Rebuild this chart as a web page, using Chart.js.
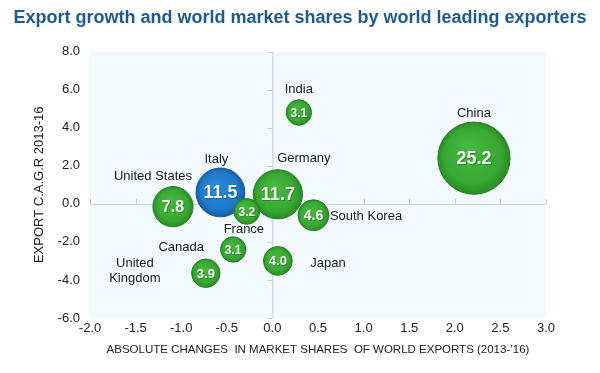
<!DOCTYPE html>
<html>
<head>
<meta charset="utf-8">
<script src="https://cdn.jsdelivr.net/npm/chart.js@4"></script>
<style>
  body { margin: 0; background: #ffffff; }
  #wrap { width: 600px; height: 373px; }
</style>
</head>
<body>
<div id="wrap"><canvas id="bubbleChart" width="600" height="373"></canvas></div>
<script>
// datos
const countries = ['India', 'China', 'Italy', 'Germany', 'United States', 'France', 'South Korea', 'Canada', 'Japan', 'United Kingdom'];
const shareChange = [0.29, 2.21, -0.57, 0.06, -1.09, -0.28, 0.45, -0.43, 0.06, -0.73];
const exportCagr = [4.8, 2.4, 0.6, 0.5, -0.15, -0.4, -0.6, -2.4, -3.0, -3.65];
const marketShare = [3.1, 25.2, 11.5, 11.7, 7.8, 3.2, 4.6, 3.1, 4.0, 3.9];
const xTicks = [-2.0, -1.5, -1.0, -0.5, 0.0, 0.5, 1.0, 1.5, 2.0, 2.5, 3.0];
const yTicks = [-6.0, -4.0, -2.0, 0.0, 2.0, 4.0, 6.0, 8.0];

// dónde va el nombre de cada país respecto a su burbuja
const namePlacement = {
    'India': { dx: 0, dy: -23, align: 'center' },
    'China': { dx: 0, dy: -45, align: 'center' },
    'Italy': { dx: -4, dy: -33, align: 'center' },
    'Germany': { dx: 26, dy: -36, align: 'center' },
    'United States': { dx: -20, dy: -30, align: 'center' },
    'France': { dx: -3, dy: 18, align: 'center' },
    'South Korea': { dx: 16, dy: 1, align: 'left' },
    'Canada': { dx: -52, dy: -2, align: 'center' },
    'Japan': { dx: 33, dy: 3, align: 'left' },
    'United Kingdom': { dx: -71, dy: -10, align: 'center', lines: ['United', 'Kingdom'] }
};

const GREEN = '#3aaa35';
const BLUE = '#1f78c9';
const radiusFor = v => 7.2 * Math.sqrt(v);

const points = countries.map((c, i) => ({ x: shareChange[i], y: exportCagr[i], r: radiusFor(marketShare[i]), share: marketShare[i], name: c }));

function bubbleFill(ctx) {
    const chart = ctx.chart;
    const p = ctx.raw;
    if (!p || !chart.chartArea) return GREEN;
    const cx = chart.scales.x.getPixelForValue(p.x);
    const cy = chart.scales.y.getPixelForValue(p.y);
    const g = chart.ctx.createRadialGradient(cx - p.r * 0.2, cy - p.r * 0.3, p.r * 0.1, cx, cy, p.r);
    if (p.name === 'Italy') {
        g.addColorStop(0, '#2a88d8');
        g.addColorStop(0.75, BLUE);
        g.addColorStop(1, '#155fa6');
    } else {
        g.addColorStop(0, '#45b83f');
        g.addColorStop(0.75, '#38a833');
        g.addColorStop(1, '#2a8a27');
    }
    return g;
}

// fondo del área, ejes en cero y etiquetas
const quadrantPlugin = {
    id: 'quadrant',
    beforeDraw(chart) {
        const { ctx, chartArea: a, scales } = chart;
        ctx.save();
        ctx.fillStyle = '#f3fafd';
        ctx.fillRect(a.left, a.top, a.right - a.left, a.bottom - a.top);
        const x0 = scales.x.getPixelForValue(0);
        const y0 = scales.y.getPixelForValue(0);
        ctx.strokeStyle = '#c9ced3';
        ctx.lineWidth = 1;
        ctx.beginPath();
        ctx.moveTo(a.left, y0 + 0.5); ctx.lineTo(a.right, y0 + 0.5);
        ctx.moveTo(x0 + 0.5, a.top); ctx.lineTo(x0 + 0.5, a.bottom);
        xTicks.forEach(t => {
            const px = Math.round(scales.x.getPixelForValue(t)) + 0.5;
            ctx.moveTo(px, y0); ctx.lineTo(px, y0 - 5);
        });
        yTicks.forEach(t => {
            const py = Math.round(scales.y.getPixelForValue(t)) + 0.5;
            ctx.moveTo(x0, py); ctx.lineTo(x0 - 5, py);
        });
        ctx.stroke();
        ctx.restore();
    },
    afterDatasetsDraw(chart) {
        const { ctx, scales } = chart;
        ctx.save();
        ctx.textBaseline = 'middle';
        points.forEach(p => {
            const cx = scales.x.getPixelForValue(p.x);
            const cy = scales.y.getPixelForValue(p.y);
            // valor dentro de la burbuja
            const fs = Math.max(12, Math.min(18, Math.round(p.r * 0.5 + 6)));
            ctx.font = 'bold ' + fs + 'px "Liberation Sans", Arial, sans-serif';
            ctx.textAlign = 'center';
            ctx.fillStyle = 'rgba(0,0,0,0.25)';
            ctx.fillText(p.share.toFixed(1), cx + 1, cy + 2);
            ctx.fillStyle = '#f4fbf2';
            ctx.fillText(p.share.toFixed(1), cx, cy + 1);
            // nombre del país
            const pl = namePlacement[p.name];
            ctx.font = '13px "Liberation Sans", Arial, sans-serif';
            ctx.fillStyle = '#1a1a1a';
            ctx.textAlign = pl.align;
            const lines = pl.lines || [p.name];
            const sx = pl.align === 'left' ? cx + p.r + pl.dx - 15 : cx + pl.dx;
            lines.forEach((ln, k) => ctx.fillText(ln, sx, cy + pl.dy + k * 15));
        });
        ctx.restore();
    }
};

const chart = new Chart(document.getElementById('bubbleChart').getContext('2d'), {
    type: 'bubble',
    data: {
        datasets: [{
            data: points,
            backgroundColor: bubbleFill,
            borderColor: ctx => (ctx.raw && ctx.raw.name === 'Italy') ? '#155a9c' : '#2a8226',
            borderWidth: 1,
            hoverRadius: 0
        }]
    },
    options: {
        responsive: false,
        animation: false,
        layout: { padding: { left: 0, right: 0, top: 0, bottom: 8 } },
        plugins: {
            legend: { display: false },
            tooltip: { enabled: false },
            title: {
                display: true,
                text: 'Export growth and world market shares by world leading exporters',
                color: '#1d5a94',
                font: { family: '"Liberation Sans", Arial, sans-serif', size: 18, weight: 'bold' },
                padding: { top: 7, bottom: 23 }
            }
        },
        scales: {
            x: {
                type: 'linear',
                min: -2, max: 3,
                afterBuildTicks: s => { s.ticks = xTicks.map(v => ({ value: v })); },
                afterFit: s => { s.height = 47; },
                grid: { display: false, drawTicks: false },
                border: { display: false },
                ticks: {
                    color: '#222',
                    padding: 3,
                    maxRotation: 0,
                    font: { family: '"Liberation Sans", Arial, sans-serif', size: 13 },
                    callback: v => Number(v).toFixed(1)
                },
                title: {
                    display: true,
                    text: 'ABSOLUTE CHANGES  IN MARKET SHARES  OF WORLD EXPORTS (2013-\u201916)',
                    color: '#222',
                    font: { family: '"Liberation Sans", Arial, sans-serif', size: 11.5 },
                    padding: { top: 2, bottom: 8 }
                }
            },
            y: {
                type: 'linear',
                min: -6, max: 8,
                afterBuildTicks: s => { s.ticks = yTicks.map(v => ({ value: v })); },
                afterFit: s => { s.width = 90; },
                grid: { display: false, drawTicks: false },
                border: { display: false },
                ticks: {
                    color: '#222',
                    padding: 10,
                    font: { family: '"Liberation Sans", Arial, sans-serif', size: 13 },
                    callback: v => Number(v).toFixed(1)
                },
                title: {
                    display: true,
                    text: 'EXPORT C.A.G.R 2013-16',
                    color: '#222',
                    font: { family: '"Liberation Sans", Arial, sans-serif', size: 13 },
                    padding: { top: 32, bottom: 0 }
                }
            },
            // eje vacío a la derecha solo para reservar margen
            yRight: {
                type: 'linear',
                position: 'right',
                min: -6, max: 8,
                afterFit: s => { s.width = 54; },
                grid: { display: false, drawTicks: false },
                border: { display: false },
                ticks: { display: false }
            }
        }
    },
    plugins: [quadrantPlugin]
});
</script>
</body>
</html>
